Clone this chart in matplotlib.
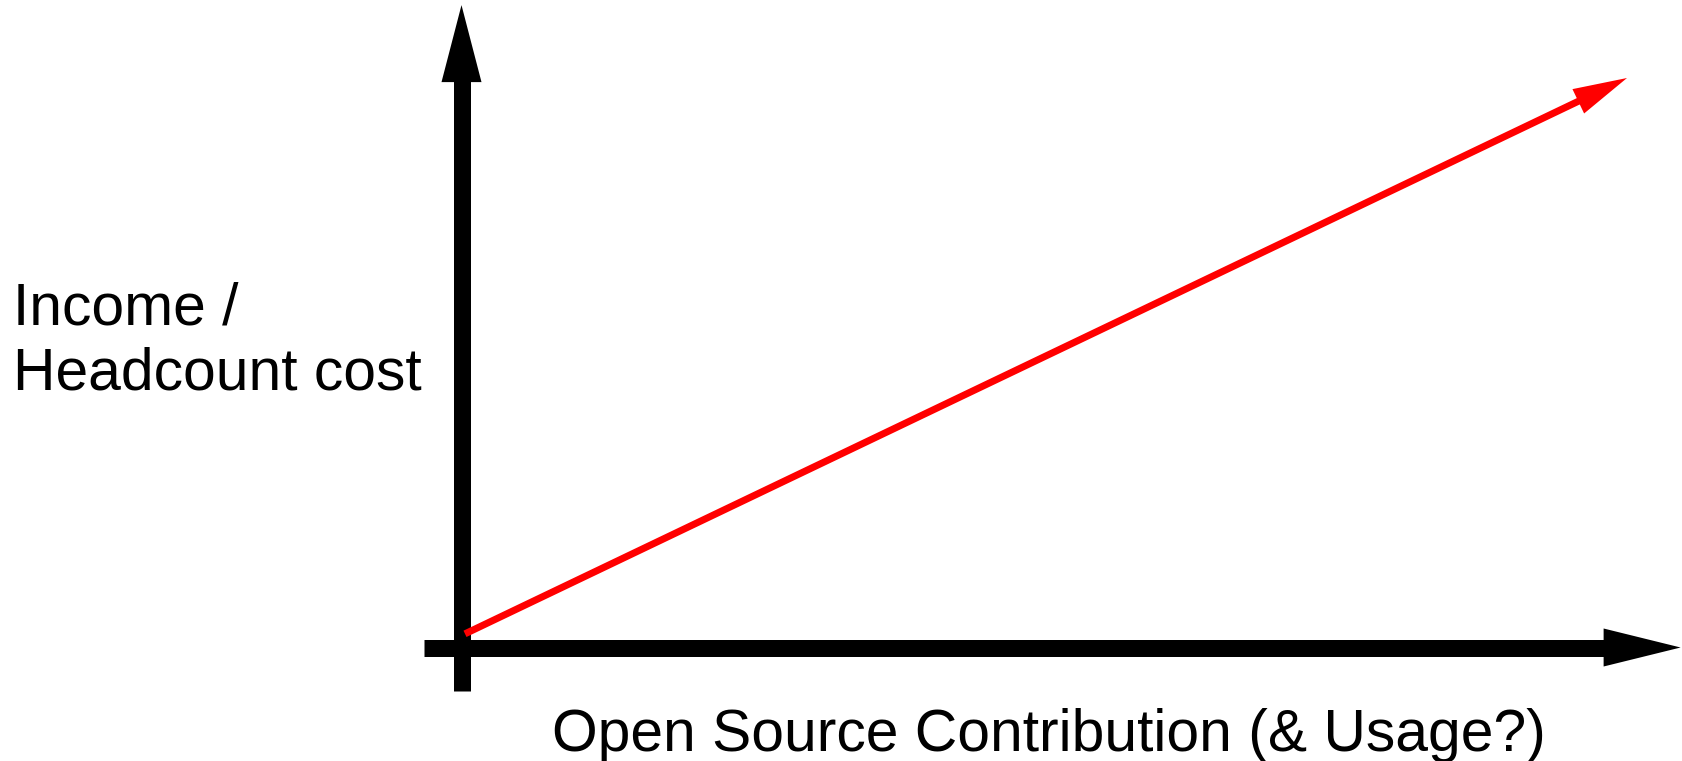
import numpy as np
import matplotlib
matplotlib.use("Agg")
import matplotlib.pyplot as plt

# conceptual line: income per head vs open source contribution (normalised)
contribution = [0.003, 1.0]
income = [0.024, 1.0]

# extent of the hand-drawn axes (same normalised units)
x_axis_range = [-0.032, 1.046]
y_axis_range = [-0.076, 1.128]

y_label_lines = ["Income /", "Headcount cost"]
x_label = "Open Source Contribution (& Usage?)"

W, H, DPI = 1682, 761, 100
PT = 72.0 / DPI  # points per pixel

plt.rcParams['font.family'] = ['Liberation Sans', 'DejaVu Sans']

fig = plt.figure(figsize=(W / DPI, H / DPI), dpi=DPI)
ax = fig.add_axes([461.5 / W, (H - 647.5) / H, 1165.5 / W, 569.5 / H])
ax.set_xlim(0, 1)
ax.set_ylim(0, 1)
ax.axis('off')


def draw_arrow(ax, x0, y0, x1, y1, width_px, head_len_px, head_hw_px, color):
    p0 = ax.transData.transform((x0, y0))
    p1 = ax.transData.transform((x1, y1))
    d = (p1 - p0) / np.hypot(*(p1 - p0))
    base = ax.transData.inverted().transform(p1 - d * head_len_px)
    shaft_end = ax.transData.inverted().transform(p1 - d * head_len_px * 0.6)
    ax.plot([x0, shaft_end[0]], [y0, shaft_end[1]], color=color,
            lw=width_px * PT, solid_capstyle='butt', clip_on=False)
    style = '-|>,head_length=%.2f,head_width=%.2f' % (head_len_px * PT, head_hw_px * PT)
    ax.annotate('', xy=(x1, y1), xytext=(base[0], base[1]),
                arrowprops=dict(arrowstyle=style, mutation_scale=1, lw=0,
                                fc=color, ec='none', shrinkA=0, shrinkB=0),
                annotation_clip=False)


# axes
draw_arrow(ax, x_axis_range[0], 0, x_axis_range[1], 0, 17, 77, 19, 'black')
draw_arrow(ax, 0, y_axis_range[0], 0, y_axis_range[1], 17, 77, 20, 'black')

# red trend
draw_arrow(ax, contribution[0], income[0], contribution[1], income[1], 7, 54, 13.5, '#ff0000')

# labels
fig.text(13 / W, 1 - 325 / H, y_label_lines[0], fontsize=42.3, va='baseline', ha='left')
fig.text(13 / W, 1 - 390 / H, y_label_lines[1], fontsize=42.3, va='baseline', ha='left')
fig.text(552 / W, 1 - 751 / H, x_label, fontsize=42.3, va='baseline', ha='left')

fig.savefig('out.png', dpi=DPI, facecolor='white')
